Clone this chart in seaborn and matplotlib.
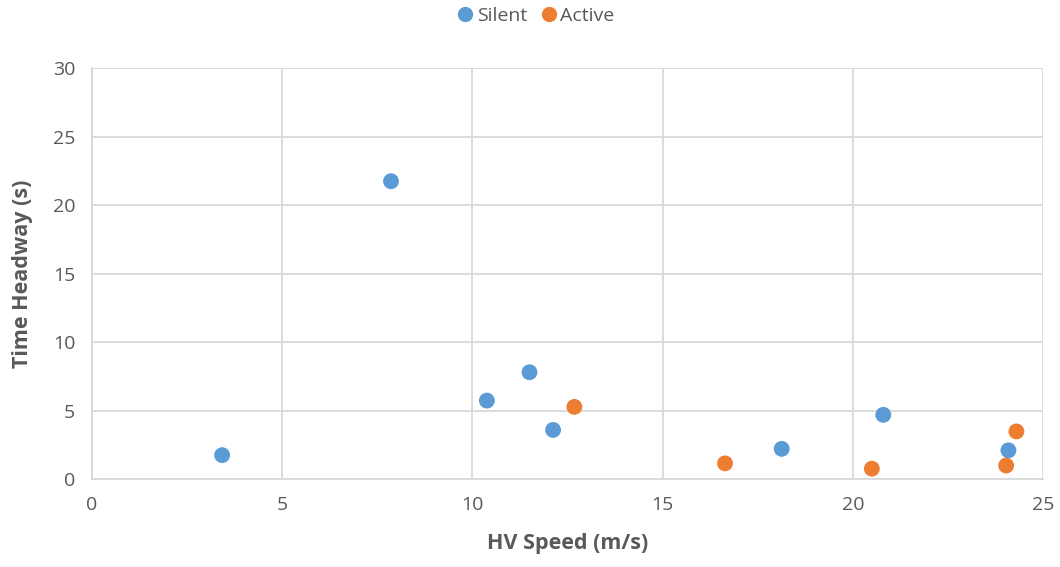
import matplotlib
matplotlib.use("Agg")
import matplotlib.pyplot as plt
import seaborn as sns
import pandas as pd

silent_x = [3.42, 7.86, 10.38, 11.50, 12.12, 18.13, 20.80, 24.09]
silent_y = [1.75, 21.74, 5.73, 7.80, 3.59, 2.21, 4.69, 2.10]
active_x = [12.68, 16.64, 20.50, 24.03, 24.30]
active_y = [5.27, 1.15, 0.76, 0.99, 3.48]
series = ["Silent", "Active"]
x_ticks = [0, 5, 10, 15, 20, 25]
y_ticks = [0, 5, 10, 15, 20, 25, 30]

df = pd.DataFrame({
    "HV Speed (m/s)": silent_x + active_x,
    "Time Headway (s)": silent_y + active_y,
    "Series": [series[0]] * len(silent_x) + [series[1]] * len(active_x),
})

sns.set_theme(style="white")
plt.rcParams["font.family"] = ["Open Sans", "DejaVu Sans"]

fig = plt.figure(figsize=(10.6, 5.67), dpi=100)
ax = fig.add_axes([0.0868, 0.155, 0.8972, 0.725])

sns.scatterplot(data=df, x="HV Speed (m/s)", y="Time Headway (s)", hue="Series",
                palette={"Silent": "#5B9BD5", "Active": "#ED7D31"},
                s=130, edgecolor="none", ax=ax, zorder=3, clip_on=False)

ax.set_xlim(0, 25)
ax.set_ylim(0, 30)
ax.set_xticks(x_ticks)
ax.set_yticks(y_ticks)
ax.grid(True, color="#D9D9D9", linewidth=1.3, zorder=0)
for s in ax.spines.values():
    s.set_visible(False)
ax.spines["left"].set_visible(True)
ax.spines["bottom"].set_visible(True)
ax.spines["left"].set_color("#D9D9D9")
ax.spines["bottom"].set_color("#D9D9D9")
ax.spines["left"].set_linewidth(1.3)
ax.spines["bottom"].set_linewidth(1.3)
ax.tick_params(axis="both", length=0, labelsize=14, labelcolor="#595959")
ax.tick_params(axis="x", pad=12)
ax.tick_params(axis="y", pad=12)
ax.set_xlabel("HV Speed (m/s)", fontsize=15.5, fontweight="bold", color="#595959", labelpad=14)
ax.set_ylabel("Time Headway (s)", fontsize=15.5, fontweight="bold", color="#595959", labelpad=14)

handles, labels = ax.get_legend_handles_labels()
ax.get_legend().remove()
leg = fig.legend(handles, labels, loc="center", bbox_to_anchor=(0.502, 1 - 16 / 567), ncol=2,
                 frameon=False, fontsize=14, handletextpad=-0.2, columnspacing=0.3,
                 borderpad=0.0, handlelength=1.6)
for t in leg.get_texts():
    t.set_color("#595959")
for h in leg.legend_handles:
    h.set_markersize(11)

fig.savefig("out.png", dpi=100)
